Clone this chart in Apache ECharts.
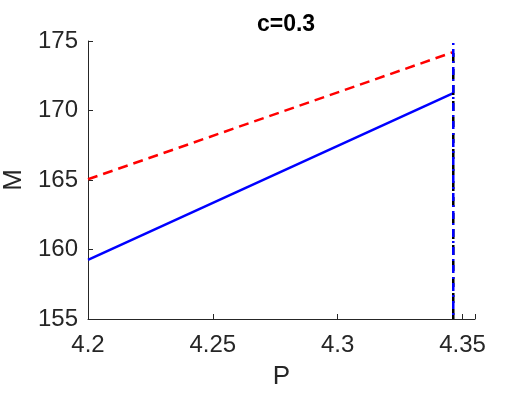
<!DOCTYPE html>
<html><head><meta charset="utf-8">
<script src="https://cdn.jsdelivr.net/npm/echarts@6/dist/echarts.min.js"></script>
<style>html,body{margin:0;padding:0;background:#fff}#c{width:525px;height:394px}</style>
</head><body><div id="c"></div>
<script>
const titleText = 'c=0.3';
const xLabel = 'P', yLabel = 'M';
const pValues = [4.2, 4.3463];
const redDashed = [165.05, 174.2];
const blueSolid = [159.25, 171.25];
const pCrit = 4.3463;
const blackVert = [155, 174.2];
const blueVert = [155, 175];
const xTicks = [4.2, 4.25, 4.3, 4.35];
const yTicks = [155, 160, 165, 170, 175];

const font = 'Liberation Sans, Arial, Helvetica, sans-serif';
const axisCol = '#262626';
const chart = echarts.init(document.getElementById('c'), null, {renderer:'canvas'});
chart.setOption({
  animation:false,
  backgroundColor:'#fff',
  title:{text:titleText,left:281,textAlign:'center',top:8,textStyle:{fontFamily:font,fontSize:23,fontWeight:'bold',color:'#000'}},
  grid:{left:88,right:50,top:41,bottom:75,containLabel:false,outerBoundsMode:'none'},
  xAxis:{type:'value',min:4.2,max:4.355,interval:0.05,
    name:xLabel,nameLocation:'middle',nameGap:45,nameTextStyle:{fontFamily:font,fontSize:26,color:axisCol},
    axisLine:{show:true,onZero:false,lineStyle:{color:axisCol,width:1}},
    axisTick:{show:true,inside:true,length:5,lineStyle:{color:axisCol}},
    splitLine:{show:false},
    axisLabel:{fontFamily:font,fontSize:24,color:axisCol,margin:14,
      formatter:v=>{const t=xTicks.find(x=>Math.abs(x-v)<1e-9);return t===undefined?'':String(t);}}
  },
  yAxis:{type:'value',min:155,max:175,interval:5,
    name:yLabel,nameLocation:'middle',nameGap:56,nameTextStyle:{fontFamily:font,fontSize:26,color:axisCol},
    axisLine:{show:true,onZero:false,lineStyle:{color:axisCol,width:1}},
    axisTick:{show:true,inside:true,length:5,lineStyle:{color:axisCol}},
    splitLine:{show:false},
    axisLabel:{fontFamily:font,fontSize:24,color:axisCol,margin:10,
      formatter:v=>{const t=yTicks.find(y=>Math.abs(y-v)<1e-9);return t===undefined?'':String(t);}}
  },
  series:[
    {type:'line',data:pValues.map((p,i)=>[p,redDashed[i]]),symbol:'none',lineStyle:{color:'#ff0000',width:2.5,type:[10,6]}},
    {type:'line',data:pValues.map((p,i)=>[p,blueSolid[i]]),symbol:'none',lineStyle:{color:'#0000ff',width:2.5}},
    {type:'line',data:blackVert.map(m=>[pCrit,m]),symbol:'none',lineStyle:{color:'#000',width:2.5,type:[10,6]}},
    {type:'line',data:blueVert.map(m=>[pCrit,m]),symbol:'none',lineStyle:{color:'#0000ff',width:2.5,type:[8,4,2,4],dashOffset:8}}
  ]
});
</script></body></html>
